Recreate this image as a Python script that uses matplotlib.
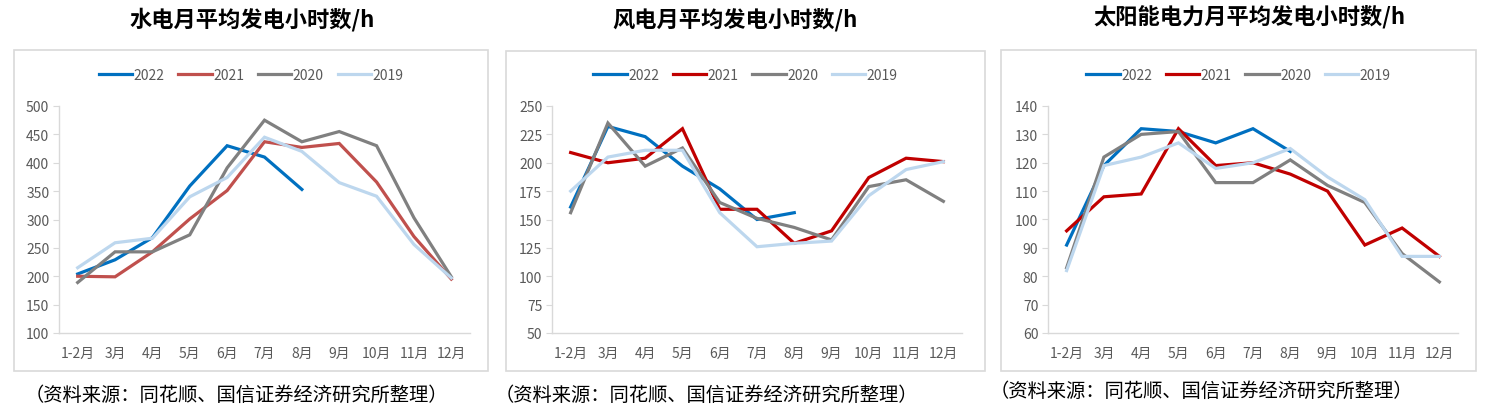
import matplotlib
matplotlib.use("Agg")
import matplotlib.pyplot as plt
from matplotlib.patches import Rectangle

plt.rcParams['font.family'] = ['Noto Sans CJK SC', 'DejaVu Sans']

# ------------------------------------------------------------------
# Donnees
# ------------------------------------------------------------------
mois = ["1-2月", "3月", "4月", "5月", "6月", "7月", "8月", "9月", "10月", "11月", "12月"]
annees = ["2022", "2021", "2020", "2019"]

hydro_2022 = [204, 229, 268, 359, 430, 410, 353]
hydro_2021 = [200, 199, 243, 301, 351, 437, 427, 434, 366, 270, 195]
hydro_2020 = [189, 243, 243, 273, 391, 475, 437, 455, 430, 303, 199]
hydro_2019 = [215, 259, 267, 340, 374, 445, 420, 365, 341, 256, 197]

vent_2022 = [161, 232, 223, 197, 177, 150, 156]
vent_2021 = [209, 200, 204, 230, 159, 159, 129, 140, 187, 204, 201]
vent_2020 = [156, 235, 197, 213, 165, 151, 143, 132, 179, 185, 166]
vent_2019 = [175, 205, 211, 211, 156, 126, 129, 131, 171, 194, 201]

solaire_2022 = [91, 119, 132, 131, 127, 132, 124]
solaire_2021 = [96, 108, 109, 132, 119, 120, 116, 110, 91, 97, 87]
solaire_2020 = [83, 122, 130, 131, 113, 113, 121, 112, 106, 88, 78]
solaire_2019 = [82, 119, 122, 127, 118, 120, 125, 115, 107, 87, 87]

titres = ["水电月平均发电小时数/h", "风电月平均发电小时数/h", "太阳能电力月平均发电小时数/h"]
source = "（资料来源：同花顺、国信证券经济研究所整理）"

series = [
    [hydro_2022, hydro_2021, hydro_2020, hydro_2019],
    [vent_2022, vent_2021, vent_2020, vent_2019],
    [solaire_2022, solaire_2021, solaire_2020, solaire_2019],
]
yticks = [
    list(range(100, 501, 50)),
    list(range(50, 251, 25)),
    list(range(60, 141, 10)),
]
couleurs = [
    ['#0070C0', '#C0504D', '#808080', '#BDD7EE'],
    ['#0070C0', '#C00000', '#808080', '#BDD7EE'],
    ['#0070C0', '#C00000', '#808080', '#BDD7EE'],
]

# ------------------------------------------------------------------
# Mise en page (pixels)
# ------------------------------------------------------------------
W, H = 1501, 410
fig = plt.figure(figsize=(W / 100, H / 100), dpi=100)

def fx(px):
    return px / W

def fy(py):
    return 1 - py / H

boites = [(14, 51, 488, 372), (506, 52, 985, 372), (1001, 51, 1476, 372)]
axes_px = [(59, 107, 470, 334), (552, 107, 962, 334), (1048, 107, 1458, 334)]
titres_pos = [(252, 20), (735, 20), (1249, 17)]
sources_pos = [(25, 395), (495, 395), (990, 391)]

for k in range(3):
    bx0, by0, bx1, by1 = boites[k]
    fig.patches.append(Rectangle((fx(bx0), fy(by1)), fx(bx1 - bx0), (by1 - by0) / H,
                                 transform=fig.transFigure, fill=False,
                                 edgecolor='#D9D9D9', linewidth=1.2))

    x0, y0, x1, y1 = axes_px[k]
    ax = fig.add_axes([fx(x0), fy(y1), fx(x1 - x0), (y1 - y0) / H])
    for i, vals in enumerate(series[k]):
        ax.plot(range(len(vals)), vals, color=couleurs[k][i], lw=2.3,
                label=annees[i], solid_joinstyle='miter')

    ax.set_xlim(-0.5, 10.5)
    ax.set_ylim(yticks[k][0], yticks[k][-1])
    ax.set_yticks(yticks[k])
    ax.set_xticks(range(len(mois)))
    ax.set_xticklabels(mois)
    ax.tick_params(axis='y', colors='#D9D9D9', labelsize=10, length=4, width=0.8,
                   labelcolor='#595959', pad=3)
    ax.tick_params(axis='x', length=0, labelsize=10, labelcolor='#595959', pad=9)
    for s in ['top', 'right']:
        ax.spines[s].set_visible(False)
    ax.spines['left'].set_color('#D9D9D9')
    ax.spines['bottom'].set_color('#D9D9D9')
    ax.spines['left'].set_linewidth(1.0)
    ax.spines['bottom'].set_linewidth(1.0)

    ax.legend(loc='center', bbox_to_anchor=(fx((bx0 + bx1) / 2), fy(76)),
              bbox_transform=fig.transFigure, ncol=4, frameon=False,
              fontsize=10, handlelength=2.4, handletextpad=0.1, columnspacing=1.0,
              labelcolor='#595959')

    tx, ty = titres_pos[k]
    fig.text(fx(tx), fy(ty), titres[k], ha='center', va='center',
             fontsize=16, fontweight='bold', color='black')
    sx, sy = sources_pos[k]
    fig.text(fx(sx), fy(sy), source, ha='left', va='center', fontsize=13.9, color='black')

fig.savefig("out.png", dpi=100)
